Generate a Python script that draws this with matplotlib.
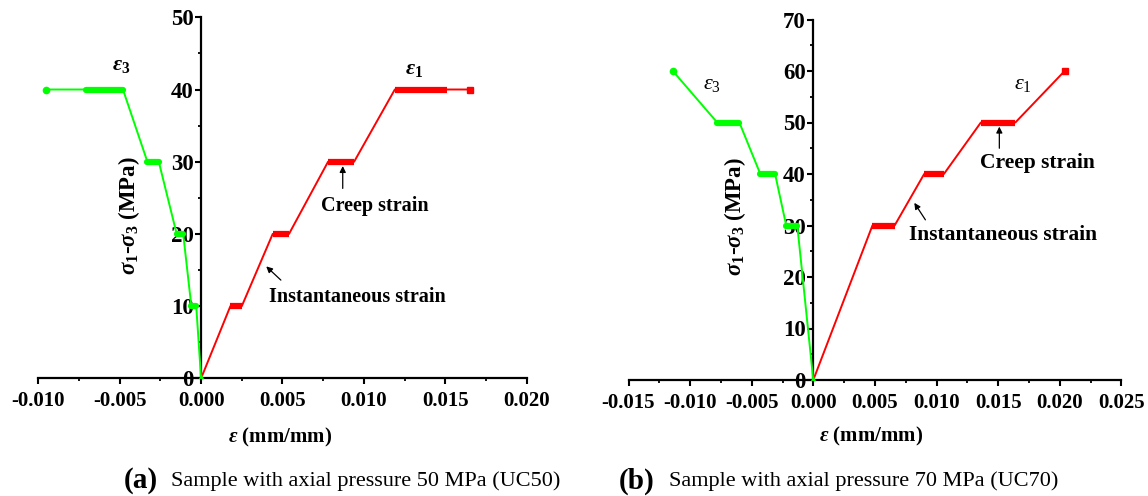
import matplotlib
matplotlib.use("Agg")
import matplotlib.pyplot as plt
from matplotlib.ticker import MultipleLocator

plt.rcParams['font.family'] = ['Liberation Serif', 'DejaVu Serif']
plt.rcParams['mathtext.fontset'] = 'custom'
plt.rcParams['mathtext.rm'] = 'Liberation Serif'
plt.rcParams['mathtext.it'] = 'Liberation Serif:italic'
plt.rcParams['mathtext.bf'] = 'Liberation Serif:bold'
plt.rcParams['mathtext.bfit'] = 'Liberation Serif:italic:bold'

# ---------------- data ----------------
# (a) UC50
uc50_levels = [10, 20, 30, 40]
uc50_e1_creep_start = [0.0018, 0.0044, 0.0078, 0.0119]
uc50_e1_creep_end = [0.0025, 0.0054, 0.0094, 0.0151]
uc50_e3_creep_start = [-0.0003, -0.0011, -0.0026, -0.0048]
uc50_e3_creep_end = [-0.0006, -0.0015, -0.0033, -0.0071]
uc50_final_stress = 40
uc50_e1_final = 0.0165
uc50_e3_final = -0.0095
uc50_xticks = [-0.010, -0.005, 0.000, 0.005, 0.010, 0.015, 0.020]
uc50_xticklabels = ['-0.010', '-0.005', '0.000', '0.005', '0.010', '0.015', '0.020']
uc50_yticks = [0, 10, 20, 30, 40, 50]

# (b) UC70
uc70_levels = [30, 40, 50]
uc70_e1_creep_start = [0.0048, 0.0090, 0.0136]
uc70_e1_creep_end = [0.0066, 0.0106, 0.0164]
uc70_e3_creep_start = [-0.0013, -0.0031, -0.0060]
uc70_e3_creep_end = [-0.0022, -0.0043, -0.0078]
uc70_final_stress = 60
uc70_e1_final = 0.0204
uc70_e3_final = -0.0114
uc70_xticks = [-0.015, -0.010, -0.005, 0.000, 0.005, 0.010, 0.015, 0.020, 0.025]
uc70_xticklabels = ['-0.015', '-0.010', '-0.005', '0.000', '0.005', '0.010',
                    '0.015', '0.020', '0.025']
uc70_yticks = [0, 10, 20, 30, 40, 50, 60, 70]

RED = '#FF0000'
GREEN = '#00FF00'

fig = plt.figure(figsize=(11.48, 4.96), dpi=100)
ax1 = fig.add_axes([38.3 / 1148, 1 - 378.3 / 496, 488.4 / 1148, 361 / 496])
ax2 = fig.add_axes([628.5 / 1148, 1 - 380 / 496, 492.8 / 1148, 360.5 / 496])


def curve(levels, starts, ends, final_e, final_s):
    xs, ys = [0.0], [0.0]
    for lv, s, e in zip(levels, starts, ends):
        xs += [s, e]
        ys += [lv, lv]
    xs.append(final_e)
    ys.append(final_s)
    return xs, ys


def draw(ax, levels, e1s, e1e, e1f, e3s, e3e, e3f, fs):
    x1, y1 = curve(levels, e1s, e1e, e1f, fs)
    x3, y3 = curve(levels, e3s, e3e, e3f, fs)
    ax.plot(x1, y1, color=RED, lw=1.4, zorder=3)
    ax.plot(x3, y3, color=GREEN, lw=1.4, zorder=3)
    for lv, s, e in zip(levels, e1s, e1e):
        ax.plot([s, e], [lv, lv], color=RED, lw=4.5, solid_capstyle='butt', zorder=4)
    for lv, s, e in zip(levels, e3s, e3e):
        ax.plot([s, e], [lv, lv], color=GREEN, lw=4.5, solid_capstyle='round', zorder=4)
    ax.plot([e1f], [fs], marker='s', ms=4.5, color=RED, zorder=5)
    ax.plot([e3f], [fs], marker='o', ms=4.5, color=GREEN, zorder=5)
    ax.plot([0], [0], marker='^', ms=5, color=GREEN, zorder=6)


def style(ax, xticks, xlabels, yticks, xlim, ylim):
    ax.set_xlim(*xlim)
    ax.set_ylim(*ylim)
    for s in ['top', 'right']:
        ax.spines[s].set_visible(False)
    ax.spines['left'].set_position(('data', 0))
    ax.spines['bottom'].set_position(('data', 0))
    for s in ['left', 'bottom']:
        ax.spines[s].set_linewidth(1.6)
    ax.set_xticks(xticks)
    ax.set_xticklabels(xlabels)
    ax.set_yticks(yticks)
    ax.xaxis.set_minor_locator(MultipleLocator(0.0025))
    ax.yaxis.set_minor_locator(MultipleLocator(5))
    ax.tick_params(axis='x', which='major', direction='out', length=4.5, width=1.5,
                   pad=5, labelsize=15)
    ax.tick_params(axis='y', which='major', direction='out', length=4.5, width=1.5,
                   pad=1, labelsize=16.5)
    ax.tick_params(which='minor', direction='out', length=2.5, width=1.3)
    for lab in ax.get_xticklabels() + ax.get_yticklabels():
        lab.set_fontweight('bold')
    ax.patch.set_alpha(0)


draw(ax1, uc50_levels, uc50_e1_creep_start, uc50_e1_creep_end, uc50_e1_final,
     uc50_e3_creep_start, uc50_e3_creep_end, uc50_e3_final, uc50_final_stress)
draw(ax2, uc70_levels, uc70_e1_creep_start, uc70_e1_creep_end, uc70_e1_final,
     uc70_e3_creep_start, uc70_e3_creep_end, uc70_e3_final, uc70_final_stress)

style(ax1, uc50_xticks, uc50_xticklabels, uc50_yticks, (-0.010, 0.020), (0, 50))
style(ax2, uc70_xticks, uc70_xticklabels, uc70_yticks, (-0.015, 0.025), (0, 70))

ylab = r'$\mathbfit{\sigma}_\mathbf{1}$-$\mathbfit{\sigma}_\mathbf{3}$ (MPa)'
xlab = r'$\mathbfit{\varepsilon}$ (mm/mm)'
for ax, (yx, yy), (xx, xy) in [(ax1, (0.186, 0.45), (0.494, -0.163)),
                               (ax2, (0.216, 0.453), (0.492, -0.158))]:
    ax.set_ylabel(ylab, fontsize=16.5, fontweight='bold')
    ax.yaxis.set_label_coords(yx, yy)
    ax.yaxis.label.set_rotation_mode('default')
    ax.yaxis.label.set_va('center')
    ax.set_xlabel(xlab, fontsize=15, fontweight='bold')
    ax.xaxis.set_label_coords(xx, xy)
    ax.xaxis.label.set_va('center')

# epsilon labels
ax1.text(-0.0049, 43.3, r'$\mathbfit{\varepsilon}_\mathbf{3}$', fontsize=16,
         ha='center', va='center')
ax1.text(0.0131, 42.8, r'$\mathbfit{\varepsilon}_\mathbf{1}$', fontsize=16,
         ha='center', va='center')
ax2.text(-0.0082, 57.4, r'$\mathit{\varepsilon}_\mathrm{3}$', fontsize=16,
         ha='center', va='center')
ax2.text(0.0170, 57.4, r'$\mathit{\varepsilon}_\mathrm{1}$', fontsize=16,
         ha='center', va='center')

arrow = dict(arrowstyle='-|>', color='black', lw=0.9, mutation_scale=9,
             shrinkA=0, shrinkB=0)
# annotations (a)
ax1.annotate('', xy=(0.0087, 29.4), xytext=(0.0087, 26.3), arrowprops=arrow)
ax1.text(0.0107, 23.8, 'Creep strain', fontsize=14.5, fontweight='bold',
         ha='center', va='center')
ax1.annotate('', xy=(0.0040, 15.5), xytext=(0.0049, 13.6), arrowprops=arrow)
ax1.text(0.0096, 11.2, 'Instantaneous strain', fontsize=14.5, fontweight='bold',
         ha='center', va='center')
# annotations (b)
ax2.annotate('', xy=(0.0151, 49.2), xytext=(0.0151, 45.0), arrowprops=arrow)
ax2.text(0.0182, 42.2, 'Creep strain', fontsize=15.5, fontweight='bold',
         ha='center', va='center')
ax2.annotate('', xy=(0.0082, 34.4), xytext=(0.0091, 31.1), arrowprops=arrow)
ax2.text(0.0154, 28.2, 'Instantaneous strain', fontsize=15.5, fontweight='bold',
         ha='center', va='center')

# captions
fig.text(124 / 1148, 1 - 481 / 496, '(a)', fontsize=21, fontweight='bold',
         ha='left', va='center')
fig.text(171 / 1148, 1 - 481 / 496, 'Sample with axial pressure 50 MPa (UC50)',
         fontsize=16, ha='left', va='center')
fig.text(619 / 1148, 1 - 481 / 496, '(b)', fontsize=21, fontweight='bold',
         ha='left', va='center')
fig.text(669 / 1148, 1 - 481 / 496, 'Sample with axial pressure 70 MPa (UC70)',
         fontsize=16, ha='left', va='center')

fig.savefig('out.png', dpi=100, facecolor='white')
